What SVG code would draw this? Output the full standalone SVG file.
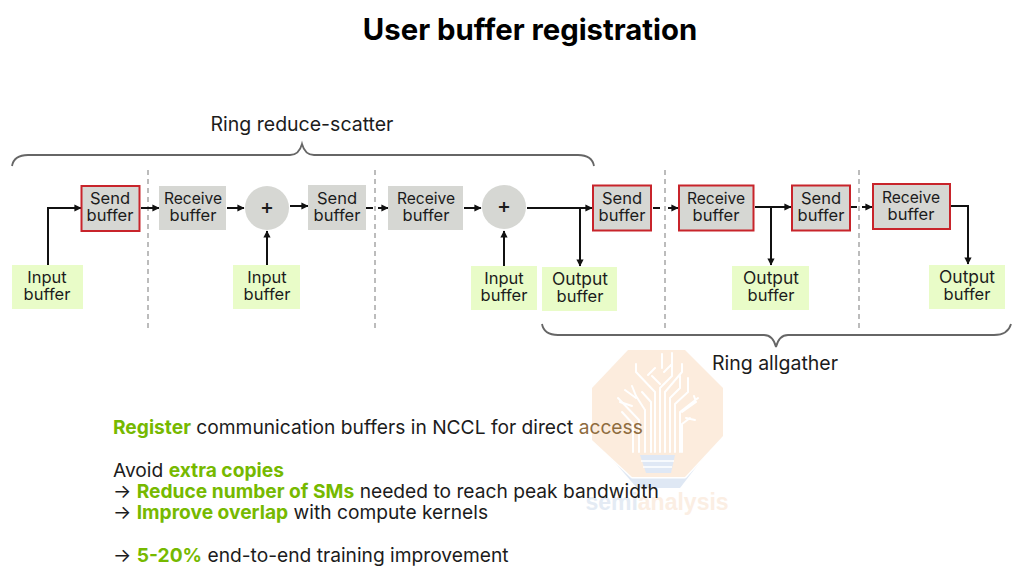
<svg xmlns="http://www.w3.org/2000/svg" width="1024" height="576" viewBox="0 0 1024 576">
<style>
text{font-family:"Inter","Noto Sans",sans-serif;fill:#1c1c1c}
.n{font-size:16.5px;text-anchor:middle}
.w{font-size:15.6px;text-anchor:middle}
.o{font-size:17.4px;text-anchor:middle}
.g{fill:#d6d7d3}
.r{fill:#d6d7d3;stroke:#c8242b;stroke-width:2}
.i{fill:#e9fcc8}
.c{fill:none;stroke:#111;stroke-width:2}
.d{fill:none;stroke:#999;stroke-width:1.3;stroke-dasharray:5 4}
.b{fill:none;stroke:#666;stroke-width:1.8}
.l{font-size:19.200px}
.h{fill:#76b900;font-weight:700}
.t{stroke:#fff;stroke-width:2;fill:none;stroke-linecap:round;stroke-linejoin:round}
.p{font-size:21px;font-weight:500;text-anchor:middle}
</style>
<defs><marker id="a" viewBox="0 0 6 6" refX="5.500" refY="3" markerWidth="3.600" markerHeight="3.600" orient="auto"><path d="M0 0L6 3L0 6z" fill="#111"/></marker></defs>
<rect width="1024" height="576" fill="#fff"/>
<g id="watermark">
<path d="M592 436L637 488H680L723 432V420H592z" fill="#dfe8f4"/>
<path d="M628 350H685L723 388V436L685 477H632L592 440V388z" fill="#fcecdd" stroke="#fff" stroke-width="3" stroke-linejoin="round" paint-order="stroke"/>
<g class="t">
<path d="M633 452V424L622 412M639 452V420L618 398M645 452V410L636 396L632 386M651 452V402L642 392M655 452V392L636 372V364"/>
<path d="M660 452V388L672 376V353M665 452V392L682 372V364M670 452V398L680 388V376M675 452V404L688 392V378M680 452V412L698 398M682 452V424L690 418M686 418L695 420M662 368V354M648 375L655 368M660 384L652 376M672 364L664 372M682 412L696 402L694 396M625 390L636 398M620 402L632 406"/>
</g>
<path d="M640 455H675L671 473H646z" fill="#dfe8f5"/>
<path d="M641 461H674M643 467H672" stroke="#fff" stroke-width="1.500"/>
<text x="657" y="510" font-size="23" font-weight="700" text-anchor="middle" style="fill:#e4ebf4;font-family:'Liberation Sans',sans-serif">semi<tspan style="fill:#fbeee3">analysis</tspan></text>
</g>
<text id="title" x="530" y="40" text-anchor="middle" font-size="29.300" font-weight="700" style="fill:#000">User buffer registration</text>
<g id="braces">
<path class="b" d="M12 166Q14 155 28 155H290Q299 155 302 144Q305 155 314 155H578Q592 155 594 166"/>
<text x="302" y="131" text-anchor="middle" font-size="19.500">Ring reduce-scatter</text>
<path class="b" d="M542 324Q544 335 558 335H764Q773 335 776 347Q779 335 788 335H994Q1008 335 1011 324"/>
<text x="775" y="370" text-anchor="middle" font-size="19.500">Ring allgather</text>
</g>
<g id="separators">
<path class="d" d="M148 170V330M375 170V330M665 170V330M859 170V330"/>
</g>
<g id="connectors">
<path class="c" marker-end="url(#a)" d="M48 265V208H81"/>
<path class="c" marker-end="url(#a)" d="M141 208H159"/>
<path class="c" marker-end="url(#a)" d="M227 208H244"/>
<path class="c" marker-end="url(#a)" d="M290 206H308"/>
<path class="c" marker-end="url(#a)" d="M267 265V231"/>
<path class="c" marker-end="url(#a)" d="M366 208H373M378 208H388"/>
<path class="c" marker-end="url(#a)" d="M464 208H481"/>
<path class="c" marker-end="url(#a)" d="M504 266V231"/>
<path class="c" marker-end="url(#a)" d="M527 208H592"/>
<path class="c" marker-end="url(#a)" d="M580 208V266"/>
<path class="c" marker-end="url(#a)" d="M653 208H660M668 208H678"/>
<path class="c" marker-end="url(#a)" d="M755 207H791"/>
<path class="c" marker-end="url(#a)" d="M771 207V265"/>
<path class="c" marker-end="url(#a)" d="M851 207H857M862 207H872"/>
<path class="c" marker-end="url(#a)" d="M951 206H968V264"/>
</g>
<g id="send1"><rect class="r" x="81.500" y="186" width="58" height="45"/><text class="n" x="110" y="204">Send</text><text class="n" x="110" y="221">buffer</text></g>
<g id="receive1"><rect class="g" x="159" y="186" width="67" height="44"/><text class="w" x="193" y="204">Receive</text><text class="n" x="193" y="221">buffer</text></g>
<g id="plus1"><circle class="g" cx="267" cy="208" r="22"/><text class="p" x="267" y="214">+</text></g>
<g id="send2"><rect class="g" x="308" y="185" width="58" height="45"/><text class="n" x="337" y="204">Send</text><text class="n" x="337" y="221">buffer</text></g>
<g id="receive2"><rect class="g" x="388" y="186" width="75" height="44"/><text class="w" x="426" y="204">Receive</text><text class="n" x="426" y="221">buffer</text></g>
<g id="plus2"><circle class="g" cx="504" cy="207" r="22"/><text class="p" x="504" y="213">+</text></g>
<g id="send3"><rect class="r" x="593" y="185.500" width="58" height="45"/><text class="n" x="622" y="204">Send</text><text class="n" x="622" y="221">buffer</text></g>
<g id="receive3"><rect class="r" x="679" y="185.500" width="74.500" height="45"/><text class="w" x="716" y="204">Receive</text><text class="n" x="716" y="221">buffer</text></g>
<g id="send4"><rect class="r" x="792" y="185.500" width="58" height="45"/><text class="n" x="821" y="204">Send</text><text class="n" x="821" y="221">buffer</text></g>
<g id="receive4"><rect class="r" x="873" y="184" width="77" height="45"/><text class="w" x="911" y="203">Receive</text><text class="n" x="911" y="220">buffer</text></g>
<g id="input1"><rect class="i" x="12" y="265" width="71" height="44"/><text class="n" x="47" y="283">Input</text><text class="n" x="47" y="300">buffer</text></g>
<g id="input2"><rect class="i" x="233" y="265" width="67" height="44"/><text class="n" x="267" y="283">Input</text><text class="n" x="267" y="300">buffer</text></g>
<g id="input3"><rect class="i" x="471" y="266" width="66" height="44"/><text class="n" x="504" y="284">Input</text><text class="n" x="504" y="301">buffer</text></g>
<g id="output1"><rect class="i" x="542" y="267" width="75" height="44"/><text class="o" x="580" y="285">Output</text><text class="n" x="580" y="302">buffer</text></g>
<g id="output2"><rect class="i" x="732" y="266" width="77" height="44"/><text class="o" x="771" y="284">Output</text><text class="n" x="771" y="301">buffer</text></g>
<g id="output3"><rect class="i" x="929" y="265" width="76" height="44"/><text class="o" x="967" y="283">Output</text><text class="n" x="967" y="300">buffer</text></g>
<g id="notes">
<text class="l" x="113" y="434"><tspan class="h">Register</tspan> communication buffers in NCCL for direct <tspan style="fill:#8f6c3f">access</tspan></text>
<text class="l" x="113" y="477">Avoid <tspan class="h">extra copies</tspan></text>
<text class="l" x="113" y="498">→ <tspan class="h">Reduce number of SMs</tspan> needed to reach peak bandwidth</text>
<text class="l" x="113" y="519">→ <tspan class="h">Improve overlap</tspan> with compute kernels</text>
<text class="l" x="113" y="562">→ <tspan class="h">5-20%</tspan> end-to-end training improvement</text>
</g>
</svg>
